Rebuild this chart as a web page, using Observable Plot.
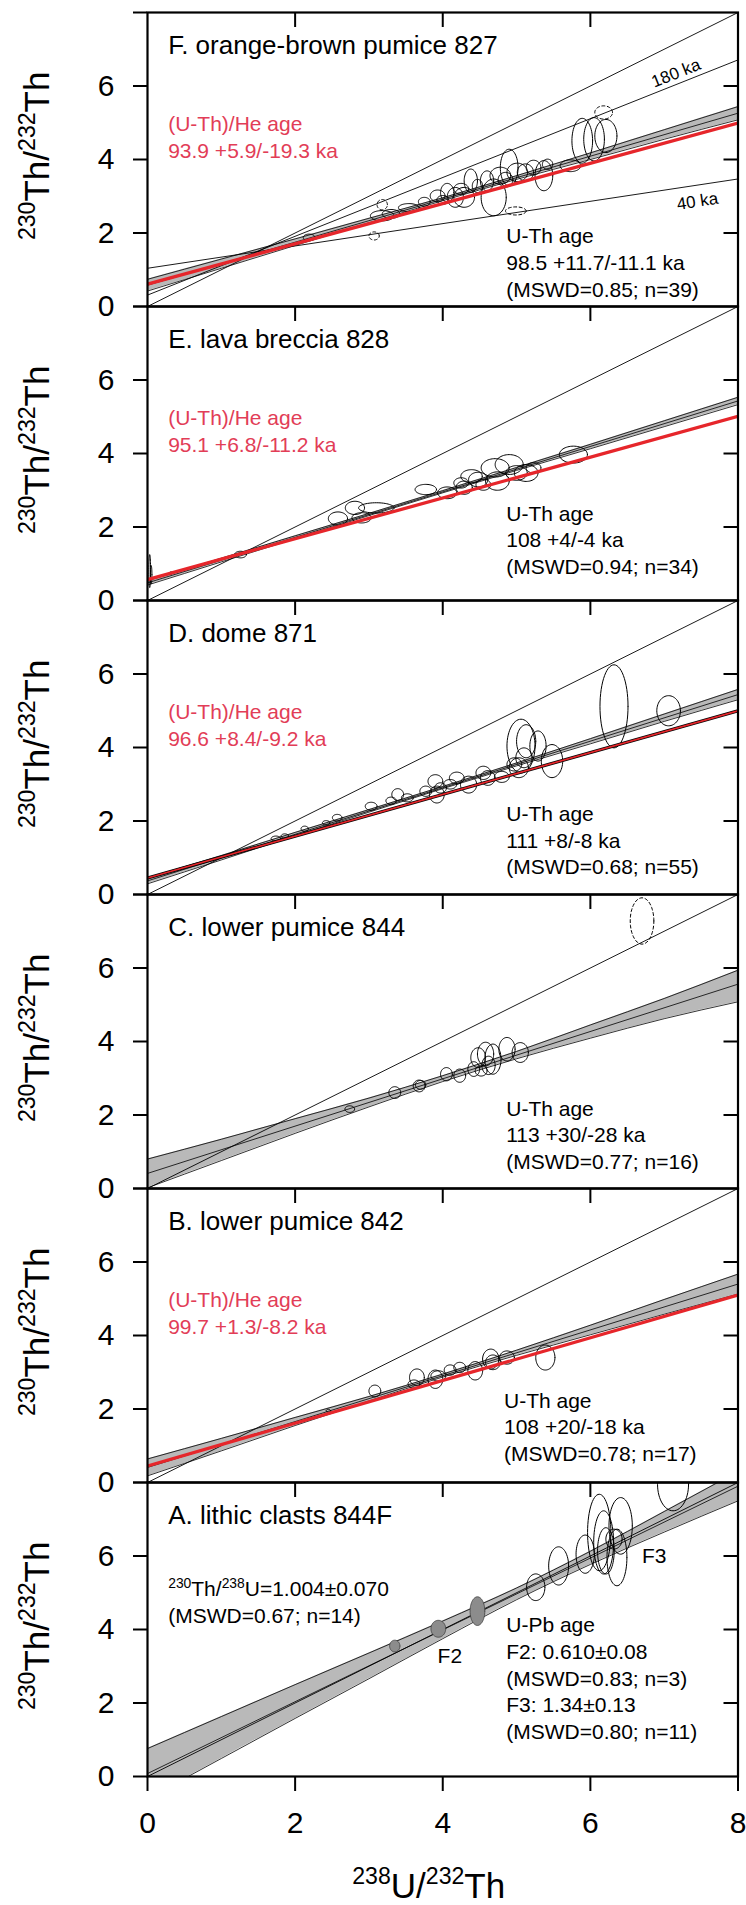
<!DOCTYPE html>
<html><head><meta charset="utf-8">
<script src="https://cdn.jsdelivr.net/npm/d3@7"></script>
<script src="https://cdn.jsdelivr.net/npm/@observablehq/plot@0.6"></script>
<style>html,body{margin:0;padding:0;background:#fff}svg{display:block}</style>
</head><body><div id="chart"></div>
<script>
// ---------------- data ----------------
const panels = ["F", "E", "D", "C", "B", "A"];
const axisTicks = [0, 2, 4, 6, 8];
const innerTicks = [2, 4, 6];

const panelTitles = ["F. orange-brown pumice 827", "E. lava breccia 828", "D. dome 871",
  "C. lower pumice 844", "B. lower pumice 842", "A. lithic clasts 844F"];

// equiline and reference isochrons (x1, y1, x2, y2)
const equiline = [0, 0, 8, 8];
const isochron180ka = [0, 0.31, 8, 6.71];
const isochron40ka = [0, 1.04, 8, 3.47];

// best-fit isochron (value at x=0 and x=8)
const fitPanels = ["F", "E", "D", "C", "B", "A"];
const fitAt0 = [0.58, 0.48, 0.37, 0.41, 0.41, 0.08];
const fitAt8 = [5.26, 5.43, 5.44, 5.56, 5.40, 7.90];

// (U-Th)/He age lines
const hePanels = ["F", "E", "D", "B"];
const heAt0 = [0.61, 0.57, 0.45, 0.45];
const heAt8 = [4.99, 5.01, 5.00, 5.10];
const heAges = ["93.9 +5.9/-19.3 ka", "95.1 +6.8/-11.2 ka", "96.6 +8.4/-9.2 ka", "99.7 +1.3/-8.2 ka"];

// error envelopes of the isochron fits
const bandX = [0, 1, 2, 3, 4, 5, 6, 7, 8];
const bandLoF = [0.42, 1.04, 1.66, 2.28, 2.88, 3.46, 4.00, 4.55, 5.08];
const bandHiF = [0.74, 1.29, 1.84, 2.40, 2.96, 3.56, 4.18, 4.81, 5.44];
const bandLoE = [0.42, 1.05, 1.68, 2.31, 2.93, 3.54, 4.13, 4.73, 5.33];
const bandHiE = [0.54, 1.15, 1.76, 2.37, 2.99, 3.62, 4.25, 4.89, 5.53];
const bandLoD = [0.29, 0.94, 1.60, 2.24, 2.88, 3.50, 4.10, 4.71, 5.30];
const bandHiD = [0.45, 1.06, 1.69, 2.31, 2.94, 3.58, 4.24, 4.91, 5.58];
const bandLoC = [0.02, 0.76, 1.50, 2.22, 2.91, 3.53, 4.09, 4.62, 5.08];
const bandHiC = [0.80, 1.34, 1.90, 2.46, 3.07, 3.73, 4.45, 5.17, 5.94];
const bandLoB = [0.18, 0.86, 1.55, 2.22, 2.87, 3.46, 4.02, 4.58, 5.13];
const bandHiB = [0.64, 1.20, 1.77, 2.34, 2.95, 3.60, 4.28, 4.98, 5.67];
const bandLoA = [-0.60, 0.49, 1.58, 2.66, 3.75, 4.81, 5.77, 6.65, 7.50];
const bandHiA = [0.76, 1.63, 2.50, 3.36, 4.23, 5.13, 6.13, 7.21, 8.30];

// error ellipses [x, y, rx, ry] (238U/232Th, 230Th/232Th)
const ellipsesF = [[2.19,1.88,0.08,0.09],[3.18,2.47,0.16,0.14],[3.30,2.52,0.12,0.12],[3.54,2.69,0.14,0.11],
  [3.75,2.85,0.08,0.12],[3.93,3.01,0.10,0.16],[4.00,2.90,0.08,0.12],[4.06,3.10,0.09,0.25],[4.17,2.97,0.11,0.27],
  [4.25,3.20,0.10,0.15],[4.29,2.97,0.14,0.27],[4.38,3.42,0.09,0.32],[4.47,3.28,0.07,0.18],[4.60,3.42,0.09,0.27],
  [4.69,2.97,0.17,0.50],[4.78,3.56,0.14,0.23],[4.85,3.45,0.10,0.20],[4.90,3.78,0.12,0.50],[5.01,3.65,0.14,0.25],
  [5.12,3.65,0.11,0.23],[5.23,3.78,0.10,0.20],[5.37,3.56,0.12,0.41],[5.42,3.87,0.07,0.14],[5.73,3.83,0.14,0.16],
  [5.89,4.51,0.14,0.61],[6.05,4.55,0.14,0.59],[6.21,4.64,0.15,0.45]];
const dashedF = [[3.18,2.77,0.07,0.14],[3.07,1.92,0.07,0.11],[4.99,2.60,0.14,0.11],[6.18,5.28,0.12,0.18]];
const ellipsesE = [[0.03,0.80,0.012,0.45],[0.05,0.70,0.010,0.25],[0.32,0.75,0.02,0.03],[1.26,1.25,0.08,0.09],
  [2.58,2.23,0.13,0.18],[2.81,2.52,0.13,0.18],[2.90,2.25,0.13,0.14],[3.10,2.52,0.24,0.14],[3.77,3.02,0.145,0.14],
  [4.06,2.93,0.13,0.16],[4.25,3.20,0.10,0.14],[4.29,3.07,0.11,0.18],[4.39,3.38,0.145,0.18],[4.48,3.29,0.13,0.20],
  [4.55,3.15,0.10,0.15],[4.71,3.61,0.19,0.25],[4.74,3.25,0.16,0.25],[4.90,3.70,0.19,0.27],[5.00,3.47,0.145,0.20],
  [5.13,3.47,0.16,0.23],[5.23,3.61,0.10,0.14],[5.77,3.97,0.19,0.23]];
const ellipsesD = [[1.74,1.52,0.065,0.07],[1.86,1.59,0.05,0.06],[2.13,1.79,0.05,0.07],[2.42,1.95,0.05,0.06],
  [2.57,2.09,0.065,0.09],[3.03,2.40,0.08,0.11],[3.30,2.55,0.07,0.10],[3.39,2.72,0.08,0.16],[3.52,2.63,0.08,0.11],
  [3.77,2.81,0.08,0.14],[3.90,3.08,0.10,0.18],[3.92,2.72,0.10,0.23],[3.97,2.90,0.08,0.14],[4.10,3.00,0.09,0.13],
  [4.19,3.17,0.10,0.16],[4.35,2.99,0.11,0.23],[4.55,3.31,0.10,0.18],[4.61,3.17,0.10,0.20],[4.80,3.20,0.10,0.15],
  [4.97,3.54,0.10,0.18],[5.03,3.45,0.13,0.27],[5.06,4.04,0.19,0.73],[5.10,3.72,0.11,0.27],[5.13,4.17,0.13,0.45],
  [5.29,4.04,0.11,0.41],[5.48,3.63,0.145,0.45],[6.32,5.12,0.19,1.13],[7.06,5.00,0.16,0.41]];
const ellipsesC = [[2.74,2.16,0.065,0.09],[3.35,2.61,0.08,0.16],[3.68,2.79,0.08,0.16],[3.70,2.82,0.07,0.12],
  [4.05,3.11,0.08,0.18],[4.23,3.07,0.08,0.18],[4.42,3.25,0.08,0.20],[4.48,3.56,0.10,0.27],[4.52,3.20,0.08,0.14],
  [4.58,3.66,0.11,0.32],[4.62,3.35,0.09,0.25],[4.68,3.52,0.11,0.41],[4.87,3.79,0.11,0.32],[5.05,3.70,0.11,0.27]];
const dashedC = [[6.70,7.28,0.16,0.63]];
const ellipsesB = [[2.45,1.95,0.03,0.04],[3.08,2.49,0.08,0.16],[3.61,2.68,0.08,0.11],[3.65,2.86,0.10,0.23],
  [3.90,2.81,0.10,0.25],[3.94,2.90,0.10,0.14],[4.10,3.06,0.08,0.14],[4.23,3.13,0.08,0.14],[4.44,3.04,0.10,0.25],
  [4.65,3.36,0.11,0.27],[4.68,3.27,0.10,0.20],[4.87,3.40,0.10,0.18],[5.39,3.40,0.13,0.34]];
const ellipsesA = [[5.26,5.15,0.124,0.363],[5.57,5.73,0.135,0.52],[5.93,6.05,0.124,0.52],[6.12,6.64,0.158,1.04],
  [6.18,6.37,0.135,0.86],[6.21,6.14,0.113,0.63],[6.32,6.46,0.11,0.27],[6.36,5.96,0.135,0.77],[6.41,6.82,0.158,0.77],
  [7.12,7.95,0.21,0.72]];
const filledA = [[3.35,3.55,0.07,0.16],[3.94,4.02,0.10,0.23],[4.47,4.50,0.10,0.39]];

// annotation texts
const heLabel = "(U-Th)/He age";
const uthF = ["U-Th age", "98.5 +11.7/-11.1 ka", "(MSWD=0.85; n=39)"];
const uthE = ["U-Th age", "108 +4/-4 ka", "(MSWD=0.94; n=34)"];
const uthD = ["U-Th age", "111 +8/-8 ka", "(MSWD=0.68; n=55)"];
const uthC = ["U-Th age", "113 +30/-28 ka", "(MSWD=0.77; n=16)"];
const uthB = ["U-Th age", "108 +20/-18 ka", "(MSWD=0.78; n=17)"];
const upbA = ["U-Pb age", "F2: 0.610\u00b10.08", "(MSWD=0.83; n=3)", "F3: 1.34\u00b10.13", "(MSWD=0.80; n=11)"];
const eqA = ["^230Th/^238U=1.004\u00b10.070", "(MSWD=0.67; n=14)"];
const yTitle = "^230Th/^232Th";
const xTitle = "^238U/^232Th";

// ---------------- layout ----------------
const W = 746, H = 1905;
const mL = 147, mR = 8.5, mT = 11.7, mB = 129.3;
const frameW = W - mL - mR;
const frameH = (H - mT - mB) / 6;
const FONT = "'Liberation Sans', Arial, Helvetica, sans-serif";
const RED = "#e6262b", RED_TEXT = "#e23d57", GRAY = "#b9b9b9";

// ---------------- derived rows ----------------
const bands = {F:[bandLoF,bandHiF],E:[bandLoE,bandHiE],D:[bandLoD,bandHiD],C:[bandLoC,bandHiC],B:[bandLoB,bandHiB],A:[bandLoA,bandHiA]};
const bandRows = [];
panels.forEach(p => bandX.forEach((x, i) => bandRows.push({panel: p, x, lo: bands[p][0][i], hi: bands[p][1][i]})));

function ellipseRows(list, panel, tag) {
  const rows = [];
  list.forEach((e, i) => {
    const [cx, cy, rx, ry] = e;
    for (let k = 0; k <= 60; k++) {
      const t = 2 * Math.PI * k / 60;
      rows.push({panel, id: panel + tag + i, x: cx + rx * Math.cos(t), y: cy + ry * Math.sin(t)});
    }
  });
  return rows;
}
const solidRows = [].concat(ellipseRows(ellipsesF,"F","s"), ellipseRows(ellipsesE,"E","s"), ellipseRows(ellipsesD,"D","s"),
  ellipseRows(ellipsesC,"C","s"), ellipseRows(ellipsesB,"B","s"), ellipseRows(ellipsesA,"A","s"));
const dashedRows = [].concat(ellipseRows(dashedF,"F","d"), ellipseRows(dashedC,"C","d"));
const filledRows = ellipseRows(filledA, "A", "f");

const fitRows = fitPanels.map((p, i) => ({panel: p, x1: 0, y1: fitAt0[i], x2: 8, y2: fitAt8[i]}));
const heRows = hePanels.map((p, i) => ({panel: p, x1: 0, y1: heAt0[i], x2: 8, y2: heAt8[i]}));
const refRows = [isochron180ka, isochron40ka].map(l => ({panel: "F", x1: l[0], y1: l[1], x2: l[2], y2: l[3]}));
const equiRows = [{x1: equiline[0], y1: equiline[1], x2: equiline[2], y2: equiline[3]}];

const titleRows = panels.map((p, i) => ({panel: p, text: panelTitles[i]}));
const heTextRows = [];
hePanels.forEach((p, i) => { heTextRows.push({panel: p, y: 4.77, text: heLabel}); heTextRows.push({panel: p, y: 4.05, text: heAges[i]}); });
const uthStart = {F: 1.72, E: 2.17, D: 2.0, C: 1.98, B: 2.04, A: 3.92};
const uthLists = {F: uthF, E: uthE, D: uthD, C: uthC, B: uthB, A: upbA};
const uthRows = [];
panels.forEach(p => uthLists[p].forEach((t, i) => uthRows.push({panel: p, y: uthStart[p] - i * 0.725, text: t})));
const eqRows = eqA.map((t, i) => ({panel: "A", y: 4.92 - i * 0.73, text: t}));
const yTitleRows = panels.map(p => ({panel: p, text: yTitle}));

const lineOpts = {x1: "x1", y1: "y1", x2: "x2", y2: "y2", fy: "panel", clip: true};

const chart = Plot.plot({
  width: W, height: H,
  marginLeft: mL, marginRight: mR, marginTop: mT, marginBottom: mB,
  style: {fontFamily: FONT, background: "#fff", color: "#000", overflow: "visible"},
  x: {domain: [0, 8], axis: null},
  y: {domain: [0, 8], axis: null},
  fy: {domain: panels, padding: 0, axis: null},
  marks: [
    Plot.areaY(bandRows, {x: "x", y1: "lo", y2: "hi", z: "panel", fy: "panel", fill: GRAY, curve: "monotone-x", clip: true}),
    Plot.line(bandRows, {x: "x", y: "lo", z: "panel", fy: "panel", stroke: "#000", strokeWidth: 0.8, curve: "monotone-x", clip: true}),
    Plot.line(bandRows, {x: "x", y: "hi", z: "panel", fy: "panel", stroke: "#000", strokeWidth: 0.8, curve: "monotone-x", clip: true}),
    Plot.link(equiRows, {x1: "x1", y1: "y1", x2: "x2", y2: "y2", stroke: "#000", strokeWidth: 0.9, clip: true}),
    Plot.link(refRows, {...lineOpts, stroke: "#000", strokeWidth: 0.9}),
    Plot.link(fitRows, {...lineOpts, stroke: "#000", strokeWidth: 0.8}),
    Plot.line(solidRows, {x: "x", y: "y", z: "id", fy: "panel", stroke: "#000", strokeWidth: 1.0, clip: true}),
    Plot.line(dashedRows, {x: "x", y: "y", z: "id", fy: "panel", stroke: "#000", strokeWidth: 1.0, strokeDasharray: "3,2.5", clip: true}),
    Plot.line(filledRows, {x: "x", y: "y", z: "id", fy: "panel", fill: "#8c8c8c", stroke: "#333", strokeWidth: 0.7, clip: true}),
    Plot.link(heRows.filter(d => d.panel !== "D"), {...lineOpts, stroke: RED, strokeWidth: 3.3}),
    Plot.link(heRows.filter(d => d.panel === "D"), {...lineOpts, stroke: "#000", strokeWidth: 3.2}),
    Plot.link(heRows.filter(d => d.panel === "D"), {...lineOpts, stroke: RED, strokeWidth: 1.7}),
    // ticks and frame
    Plot.tickX(innerTicks, {x: d => d, insetBottom: frameH - 15, stroke: "#000", strokeWidth: 2}),
    Plot.tickY([2, 4, 6], {y: d => d, insetLeft: frameW - 14, stroke: "#000", strokeWidth: 2}),
    Plot.axisY({ticks: axisTicks, tickSize: 14, tickPadding: 19, fontSize: 30, strokeWidth: 2, label: null,
      tickFormat: d => d === 8 ? "" : String(d)}),
    Plot.axisX({anchor: "bottom", ticks: axisTicks, tickSize: 15, tickPadding: 20, fontSize: 30, strokeWidth: 2, label: null,
      tickFormat: d => String(d)}),
    Plot.frame({stroke: "#000", strokeWidth: 2.2}),
    // texts
    Plot.text(titleRows, {x: 0.28, y: 6.87, text: "text", fy: "panel", textAnchor: "start", lineAnchor: "bottom", fontSize: 26, fill: "#000"}),
    Plot.text(heTextRows, {x: 0.28, y: "y", text: "text", fy: "panel", textAnchor: "start", lineAnchor: "bottom", fontSize: 21, fill: RED_TEXT}),
    Plot.text(uthRows, {x: d => d.panel === "B" ? 4.83 : 4.86, y: "y", text: "text", fy: "panel", textAnchor: "start", lineAnchor: "bottom", fontSize: 21, fill: "#000"}),
    Plot.text(eqRows, {x: 0.28, y: "y", text: "text", fy: "panel", textAnchor: "start", lineAnchor: "bottom", fontSize: 21, fill: "#000"}),
    Plot.text([{panel: "F", text: "180 ka"}], {x: 7.16, y: 6.35, text: "text", fy: "panel", rotate: -21.8, fontSize: 17, fill: "#000"}),
    Plot.text([{panel: "F", text: "40 ka"}], {x: 7.45, y: 2.86, text: "text", fy: "panel", rotate: -8.6, fontSize: 17, fill: "#000"}),
    Plot.text([{panel: "A", text: "F2", x: 3.93, y: 3.10}, {panel: "A", text: "F3", x: 6.70, y: 5.82}],
      {x: "x", y: "y", text: "text", fy: "panel", textAnchor: "start", lineAnchor: "bottom", fontSize: 21, fill: "#000"}),
    Plot.text(yTitleRows, {x: 0, y: 4.1, text: "text", fy: "panel", dx: -110, rotate: -90, fontSize: 35, fill: "#000"}),
    Plot.text([{panel: "A", text: xTitle}], {x: 3.81, text: "text", fy: "panel", frameAnchor: "bottom", dy: 121, lineAnchor: "bottom", fontSize: 35, fill: "#000"})
  ]
});
document.getElementById("chart").appendChild(chart);

// superscripts: "^230" -> raised smaller digits
chart.querySelectorAll("text").forEach(t => {
  const s = t.textContent;
  if (!s.includes("^")) return;
  const fs = parseFloat(getComputedStyle(t).fontSize);
  const sup = fs * 0.66, shift = fs * 0.38;
  t.textContent = "";
  const re = /\^(\d+)|([^^]+)/g;
  let m, raised = false;
  while ((m = re.exec(s))) {
    const ts = document.createElementNS("http://www.w3.org/2000/svg", "tspan");
    if (m[1]) {
      ts.textContent = m[1];
      ts.setAttribute("font-size", sup);
      if (!raised) { ts.setAttribute("dy", -shift); raised = true; }
    } else {
      ts.textContent = m[2];
      if (raised) { ts.setAttribute("dy", shift); raised = false; }
    }
    t.appendChild(ts);
  }
});
</script>
</body></html>
